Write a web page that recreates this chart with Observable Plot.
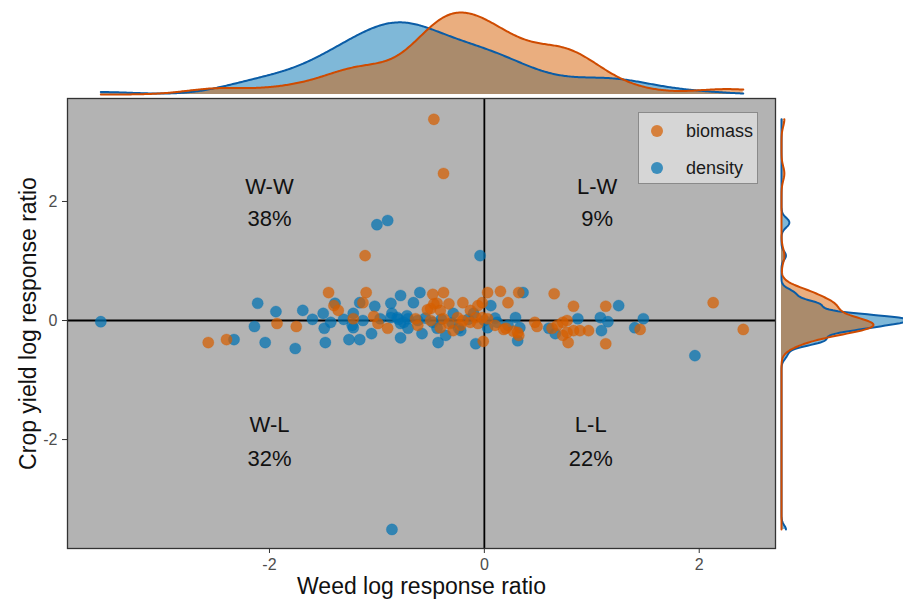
<!DOCTYPE html>
<html>
<head>
<meta charset="utf-8">
<script src="https://cdn.jsdelivr.net/npm/d3@7"></script>
<script src="https://cdn.jsdelivr.net/npm/@observablehq/plot@0.6"></script>
<style>
  html, body { margin: 0; padding: 0; background: white; overflow: hidden; }
  #wrap { position: relative; width: 903px; height: 606px; overflow: hidden; font-family: "Liberation Sans", Arial, sans-serif; }
  #wrap > div.layer { position: absolute; }
  #legend { position: absolute; left: 638px; top: 112px; width: 120px; height: 72px; background: #d6d6d6; border: 1px solid #8a8a8a; box-sizing: border-box; }
  .lg-row { position: absolute; left: 0; height: 22px; display: flex; align-items: center; font-size: 18px; color: #1a1a1a; }
  .lg-dot { display: inline-block; width: 12px; height: 12px; border-radius: 50%; margin-left: 12px; margin-right: 23px; }
</style>
</head>
<body>
<div id="wrap"></div>
<script>
// ---- data ----
const groups = ["biomass", "density"];
const groupColors = ["#D55E00", "#0072B2"];
const lineColors = ["#cf4b00", "#0a5ca6"];

const biomassX = [-0.47,-0.38,-1.11,-1.45,-1.93,-1.75,-2.57,-2.40,-1.40,-1.10,-1.36,-1.13,-1.22,-1.03,-0.99,-0.90,-0.64,-0.62,-0.48,-0.50,-0.44,-0.38,-0.47,-0.33,-0.20,-0.02,-0.53,-0.41,-0.50,-0.38,-0.25,-0.20,-0.13,-0.08,-0.06,-0.02,0.03,0.03,0.15,0.32,0.22,0.10,0.20,0.27,0.32,0.47,-0.01,-0.22,-0.33,-0.41,-0.29,0.65,0.83,1.13,2.13,2.41,0.49,0.63,0.68,0.73,0.77,0.77,0.83,0.89,0.97,0.78,1.13,1.45,0.18,0.31,0.73,-0.13,-0.06];
const biomassY = [3.38,2.47,1.09,0.47,-0.05,-0.10,-0.37,-0.32,0.25,0.47,0.17,0.30,0.03,0.07,-0.05,-0.13,0.03,-0.08,0.44,0.20,0.29,0.47,0.28,0.28,0.30,0.30,0.18,0.17,0.00,0.03,0.05,0.00,-0.03,0.05,-0.05,0.05,0.03,0.47,0.49,0.47,0.30,-0.08,-0.13,-0.18,-0.25,-0.03,-0.35,-0.08,-0.05,-0.12,-0.17,0.45,0.24,0.24,0.30,-0.15,-0.10,-0.13,-0.08,-0.03,0.00,-0.20,-0.17,-0.17,-0.17,-0.37,-0.39,-0.15,-0.15,-0.20,-0.25,0.17,0.25];

const densityX = [-0.86,-3.57,-1.00,-0.90,-0.04,1.96,-2.11,-2.33,-2.14,-2.04,-1.94,-1.69,-1.76,-1.60,-1.50,-1.49,-1.43,-1.48,-1.39,-1.31,-1.22,-1.26,-1.16,-1.16,-1.05,-1.02,-0.87,-0.78,-0.66,-0.60,-0.86,-0.81,-0.78,-0.78,-1.22,-1.23,-1.13,-0.75,-0.71,-0.58,-0.43,-0.71,-0.36,-0.22,-0.08,0.06,0.12,0.22,0.29,0.33,0.31,0.36,-0.29,-0.10,0.03,-0.44,0.87,1.08,1.15,1.09,1.25,1.48,1.40,0.60,0.66,-0.24,-0.97,-0.87,
  -0.80,-0.72,-0.62,-0.55,-0.48,-0.40,-0.30,-0.15,0.00,0.10];
const densityY = [-3.51,-0.02,1.61,1.68,1.09,-0.59,0.29,-0.32,-0.10,-0.37,0.15,0.17,-0.47,0.02,0.12,-0.13,-0.03,-0.37,0.29,0.02,-0.12,-0.32,-0.32,0.30,-0.22,0.24,0.29,0.42,0.30,0.47,0.12,0.05,-0.05,-0.29,0.12,-0.08,0.00,-0.03,0.03,-0.22,-0.37,-0.13,-0.25,-0.17,-0.39,0.25,-0.03,-0.08,0.05,-0.12,-0.34,0.47,0.12,0.12,-0.12,-0.13,0.03,0.05,-0.02,-0.17,0.25,0.03,-0.12,-0.13,-0.22,-0.13,0.03,0.05,
  0.02,0.08,0.00,0.04,-0.03,0.02,-0.04,0.02,0.00,0.04];

const xTicks = [-2, 0, 2];
const yTicks = [-2, 0, 2];
const xTitle = "Weed log response ratio";
const yTitle = "Crop yield log response ratio";

const quadCodes = ["W-W", "L-W", "W-L", "L-L"];
const quadPcts  = ["38%", "9%", "32%", "22%"];
const quadX     = [-2.0, 1.05, -2.0, 0.99];
const quadYCode = [2.24, 2.24, -1.75, -1.75];
const quadYPct  = [1.70, 1.70, -2.32, -2.32];

// ---- build tables ----
const pts = [
  ...densityX.map((x, i) => ({x, y: densityY[i], g: "density"})),
  ...biomassX.map((x, i) => ({x, y: biomassY[i], g: "biomass"}))
];
const quads = quadCodes.map((c, i) => ({c, p: quadPcts[i], x: quadX[i], yc: quadYCode[i], yp: quadYPct[i]}));

const xDomain = [-3.88, 2.71];
const yDomain = [-3.83, 3.73];
const FONT = "Liberation Sans, Arial, sans-serif";

// kernel density (gaussian, bw.nrd0) computed from the points
function bwNrd0(v) {
  const s = d3.sort(v);
  const sd = d3.deviation(s);
  const iqr = d3.quantile(s, 0.75) - d3.quantile(s, 0.25);
  let lo = Math.min(sd, iqr / 1.34);
  if (!(lo > 0)) lo = sd || 1;
  return 0.9 * lo * Math.pow(s.length, -0.2);
}
function kde(values, grid) {
  const bw = bwNrd0(values);
  const k = 1 / Math.sqrt(2 * Math.PI);
  return grid.map(g => d3.mean(values, v => k * Math.exp(-0.5 * ((g - v) / bw) ** 2)) / bw);
}
function gridOf(all, n) {
  const [a, b] = d3.extent(all);
  return d3.range(n).map(i => a + (b - a) * i / (n - 1));
}
const gx = gridOf([...biomassX, ...densityX], 512);
const gy = gridOf([...biomassY, ...densityY], 512);
const dxB = kde(biomassX, gx), dxD = kde(densityX, gx);
const dyB = kde(biomassY, gy), dyD = kde(densityY, gy);
const topRows = [
  ...gx.map((v, i) => ({v, d: dxD[i], g: "density"})),
  ...gx.map((v, i) => ({v, d: dxB[i], g: "biomass"}))
];
const rightRows = [
  ...gy.map((v, i) => ({v, d: dyD[i], g: "density"})),
  ...gy.map((v, i) => ({v, d: dyB[i], g: "biomass"}))
];
const colorScale = {domain: groups, range: groupColors};
const lineScale = d => lineColors[groups.indexOf(d)];

// ---- main scatter ----
const main = Plot.plot({
  width: 903, height: 606,
  marginLeft: 67, marginRight: 128, marginTop: 98, marginBottom: 58,
  style: {background: "transparent", fontFamily: FONT, fontSize: "15.5px", color: "#4d4d4d"},
  x: {domain: xDomain, label: null},
  y: {domain: yDomain, label: null},
  color: colorScale,
  marks: [
    Plot.frame({fill: "#b3b3b3", stroke: null}),
    Plot.ruleX([0], {stroke: "#000", strokeWidth: 1.8}),
    Plot.ruleY([0], {stroke: "#000", strokeWidth: 1.8}),
    Plot.dot(pts, {x: "x", y: "y", r: 5.6, fill: "g", fillOpacity: 0.72, stroke: "g", strokeOpacity: 0.35, strokeWidth: 0.8}),
    Plot.text(quads, {x: "x", y: "yc", text: "c", fontSize: 22, fill: "#111"}),
    Plot.text(quads, {x: "x", y: "yp", text: "p", fontSize: 22, fill: "#111"}),
    Plot.frame({stroke: "#333", strokeWidth: 1.3}),
    Plot.axisX({ticks: xTicks, tickFormat: d => String(d), tickSize: 5, tickPadding: 5, fontSize: 16, label: null, stroke: "#333", fill: "#4d4d4d"}),
    Plot.axisY({ticks: yTicks, tickFormat: d => String(d), tickSize: 5, tickPadding: 5, fontSize: 16, label: null, stroke: "#333", fill: "#4d4d4d"}),
    Plot.text([xTitle], {frameAnchor: "bottom", dy: 45, fontSize: 23, fill: "#111"}),
    Plot.text([yTitle], {frameAnchor: "left", textAnchor: "middle", rotate: -90, dx: -39, fontSize: 23, fill: "#111"})
  ]
});

// ---- top marginal density ----
const topMax = d3.max(topRows, d => d.d);
const topPlot = Plot.plot({
  width: 903, height: 98,
  marginLeft: 67, marginRight: 128, marginTop: 12, marginBottom: 4,
  style: {background: "transparent"},
  x: {domain: xDomain, axis: null},
  y: {domain: [0, topMax], axis: null},
  color: colorScale,
  marks: [
    Plot.areaY(topRows, {x: "v", y1: 0, y2: "d", z: "g", fill: "g", fillOpacity: 0.5}),
    Plot.lineY(topRows, {x: "v", y: "d", z: "g", stroke: d => lineScale(d.g), strokeWidth: 2})
  ]
});

// ---- right marginal density ----
const rightRef = d3.max(dyB);
const rightPlot = Plot.plot({
  width: 128, height: 606,
  marginLeft: 6, marginRight: 30, marginTop: 98, marginBottom: 58,
  style: {background: "transparent", overflow: "visible"},
  x: {domain: [0, rightRef], axis: null},
  y: {domain: yDomain, axis: null},
  color: colorScale,
  marks: [
    Plot.areaX(rightRows, {y: "v", x1: 0, x2: "d", z: "g", fill: "g", fillOpacity: 0.5}),
    Plot.lineX(rightRows, {y: "v", x: "d", z: "g", stroke: d => lineScale(d.g), strokeWidth: 2})
  ]
});

const wrap = document.getElementById("wrap");
function layer(el, left, top) {
  const d = document.createElement("div");
  d.className = "layer";
  d.style.left = left + "px"; d.style.top = top + "px";
  d.appendChild(el);
  wrap.appendChild(d);
}
layer(main, 0, 0);
layer(topPlot, 0, 0);
layer(rightPlot, 775, 0);

// legend
const lg = document.createElement("div");
lg.id = "legend";
groups.forEach((g, i) => {
  const row = document.createElement("div");
  row.className = "lg-row";
  row.style.top = (7 + i * 37) + "px";
  const dot = document.createElement("span");
  dot.className = "lg-dot";
  dot.style.background = groupColors[i];
  dot.style.opacity = 0.72;
  row.appendChild(dot);
  row.appendChild(document.createTextNode(g));
  lg.appendChild(row);
});
wrap.appendChild(lg);
</script>
</body>
</html>
